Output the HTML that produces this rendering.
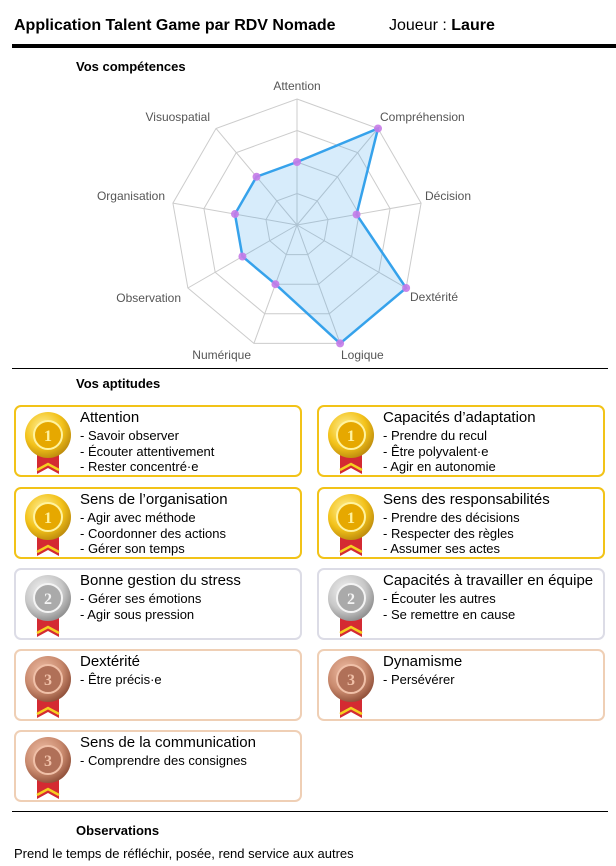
<!DOCTYPE html>
<html><head><meta charset="utf-8"><style>
body{margin:0;width:616px;height:866px;background:#fff;position:relative;font-family:"Liberation Sans",Arial,sans-serif;color:#000;overflow:hidden}
.a{position:absolute;white-space:nowrap}
.card{position:absolute;width:284px;height:68px;border:2px solid #f2c318;border-radius:7px;box-sizing:content-box}
.card.s{border-color:#dcdce6}.card.b{border-color:#efcfb5}
.card svg{position:absolute;left:6px;top:-3px}
.card .t{position:absolute;left:64px;top:2px;font-size:15px;line-height:18px}
.card .l{position:absolute;left:64px;top:21px;font-size:13px;line-height:15.5px}
</style></head><body>
<div class="a" style="left:14px;top:17px;font-size:16px;font-weight:bold">Application Talent Game par RDV Nomade</div>
<div class="a" style="left:389px;top:17px;font-size:16px">Joueur : <b>Laure</b></div>
<div class="a" style="left:12px;top:44px;width:604px;height:4px;background:#000"></div>
<div class="a" style="left:76px;top:59px;font-size:13px;font-weight:bold">Vos compétences</div>
<svg class="a" style="left:0;top:0" width="616" height="370" id="radar"></svg>
<div class="a" style="left:12px;top:368px;width:596px;height:1px;background:#000"></div>
<div class="a" style="left:76px;top:376px;font-size:13px;font-weight:bold">Vos aptitudes</div>
<div id="cards"></div>
<div class="a" style="left:12px;top:811px;width:596px;height:1px;background:#000"></div>
<div class="a" style="left:76px;top:823px;font-size:13px;font-weight:bold">Observations</div>
<div class="a" style="left:14px;top:846px;font-size:13px">Prend le temps de réfléchir, posée, rend service aux autres</div>
<script>
var cx=297,cy=225,R=126,s='';
function p(i,r){var a=(-90+40*i)*Math.PI/180;return [cx+r*Math.cos(a),cy+r*Math.sin(a)];}
for(var k=1;k<=4;k++){var pts=[];for(var i=0;i<9;i++)pts.push(p(i,R*k/4).join(','));s+='<polygon points="'+pts.join(' ')+'" fill="none" stroke="#ccc" stroke-width="1"/>';}
for(var i=0;i<9;i++){var q=p(i,R);s+='<line x1="'+cx+'" y1="'+cy+'" x2="'+q[0]+'" y2="'+q[1]+'" stroke="#ccc"/>';}
var v=[.5,1,.48,1,1,.5,.5,.5,.5],d=[];
for(var i=0;i<9;i++)d.push(p(i,R*v[i]).join(','));
s+='<polygon points="'+d.join(' ')+'" fill="rgba(54,162,235,0.2)" stroke="#36a2eb" stroke-width="2.5"/>';
for(var i=0;i<9;i++){var q=p(i,R*v[i]);s+='<circle cx="'+q[0]+'" cy="'+q[1]+'" r="4" fill="#c77be8" opacity=".9"/>';}
var L=[["Attention",297,90,"middle"],["Compréhension",380,121,"start"],["Décision",425,200,"start"],["Dextérité",410,301,"start"],["Logique",341,359,"start"],["Numérique",251,359,"end"],["Observation",181,302,"end"],["Organisation",165,200,"end"],["Visuospatial",210,121,"end"]];
L.forEach(function(l){s+='<text x="'+l[1]+'" y="'+l[2]+'" text-anchor="'+l[3]+'" font-size="12" fill="#555" font-family="Liberation Sans,sans-serif">'+l[0]+'</text>';});
document.getElementById('radar').innerHTML=s;
var C={g:['#fff3a0','#f3c21a','#b8860b','#e6a800'],s:['#f4f4f4','#c8c8c8','#888','#aaa'],b:['#f0c0a8','#c98a6e','#8a4a34','#b07058']};
function medal(t,n){var c=C[t];return '<svg width="50" height="72"><defs><radialGradient id="r'+t+'" cx="40%" cy="35%" r="70%"><stop offset="0" stop-color="'+c[0]+'"/><stop offset=".6" stop-color="'+c[1]+'"/><stop offset="1" stop-color="'+c[2]+'"/></radialGradient></defs>'+
'<polygon points="15,45 37,45 37,70 26,64 15,70" fill="#d42a32"/><polyline points="15,66 26,60 37,66" fill="none" stroke="#f5d020" stroke-width="2.5"/>'+
'<circle cx="26" cy="31" r="23" fill="url(#r'+t+')"/><circle cx="26" cy="31" r="14" fill="'+c[3]+'" stroke="'+c[0]+'" stroke-width="2"/><text x="26" y="37" text-anchor="middle" font-size="16" font-weight="bold" fill="'+c[0]+'" font-family="Liberation Serif,serif">'+n+'</text></svg>';}
var D=[[14,405,'g','Attention',['Savoir observer','Écouter attentivement','Rester concentré·e']],
[317,405,'g','Capacités d’adaptation',['Prendre du recul','Être polyvalent·e','Agir en autonomie']],
[14,487,'g','Sens de l’organisation',['Agir avec méthode','Coordonner des actions','Gérer son temps']],
[317,487,'g','Sens des responsabilités',['Prendre des décisions','Respecter des règles','Assumer ses actes']],
[14,568,'s','Bonne gestion du stress',['Gérer ses émotions','Agir sous pression']],
[317,568,'s','Capacités à travailler en équipe',['Écouter les autres','Se remettre en cause']],
[14,649,'b','Dextérité',['Être précis·e']],
[317,649,'b','Dynamisme',['Persévérer']],
[14,730,'b','Sens de la communication',['Comprendre des consignes']]];
var h='';D.forEach(function(c){var n=c[2]=='g'?1:c[2]=='s'?2:3;
h+='<div class="card '+c[2]+'" style="left:'+c[0]+'px;top:'+c[1]+'px">'+medal(c[2],n)+'<div class="t">'+c[3]+'</div><div class="l">'+c[4].map(function(x){return '- '+x}).join('<br>')+'</div></div>';});
document.getElementById('cards').innerHTML=h;
</script>
</body></html>
